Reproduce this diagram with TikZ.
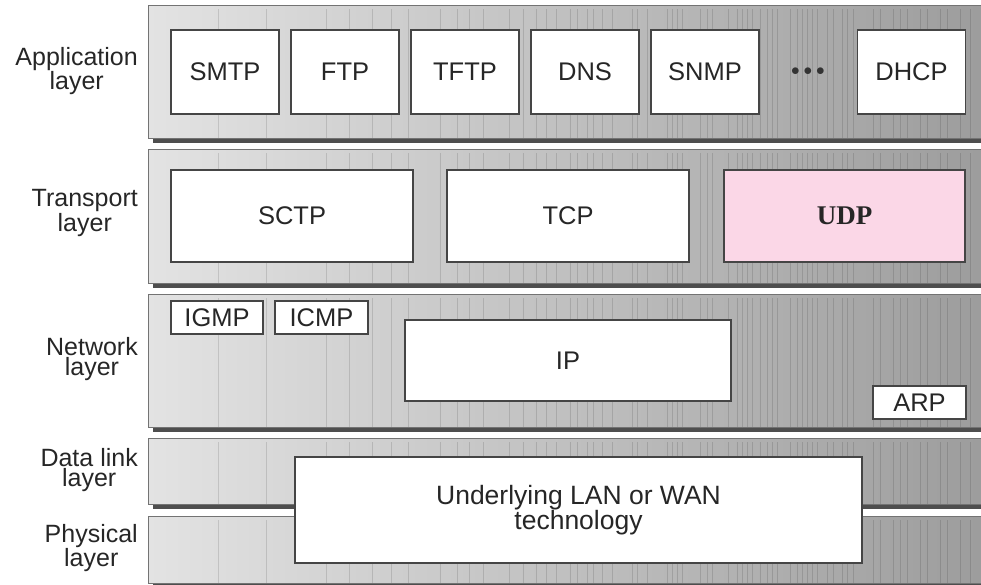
\documentclass[tikz,border=0pt]{standalone}
\usepackage{fontspec}
\setmainfont{Liberation Sans}
\newfontfamily\udpfont{Liberation Serif}
\definecolor{bandA}{HTML}{E3E3E3}
\definecolor{bandB}{HTML}{D5D5D5}
\definecolor{bandC}{HTML}{9C9C9C}
\definecolor{shadowgray}{HTML}{4E4E4E}
\definecolor{boxline}{HTML}{454545}
\definecolor{udppink}{HTML}{FBD7E7}
\tikzset{proto/.style = {shape=rectangle,draw=boxline,line width=1.3pt,fill=white,inner sep=1pt,text=black!85,font=\fontsize{25.5}{18}\selectfont}}
\tikzset{layername/.style = {anchor=east,align=center,inner sep=0pt,text=black!85,font=\fontsize{25}{20}\selectfont}}

\begin{document}
\begin{tikzpicture}[x=1pt,y=-1pt]
        \useasboundingbox (0,0) rectangle (981,584);

        % layer bands (top/bottom)
        \foreach \t/\b in {5/138,149/283,294/427,438/504,516/583} {
          \fill[shadowgray] (153,\t+5) rectangle (995,\b+5);
          \shade[left color=bandA,middle color=bandB,right color=bandC] (148,\t) rectangle (990,\b);
          \foreach \s in {218,266,326,349,372,391,408,440,457,469,483,509,523,536,546,556,570,577,587,593,602,612,632,637,647,667,672,677,682,700,707,712,728,737,742,747,752,760,767,772,777,790,797,802,807,812,817,827,833,842,847,853,873,880,893,900,907,920,927,940,947,960,970}
            \draw[black,opacity=.12,line width=.8pt] (\s,\t+4) -- (\s,\b);
          \draw[black!55,line width=.8pt] (148,\t) rectangle (990,\b);
        }

        % layer names
        \node[layername] (app) at (138,71) {Application\\layer};
        \node[layername] (trans) at (138,213) {Transport\\layer};
        \node[layername] (net) at (138,359) {Network\\layer};
        \node[layername] (dlink) at (138,470) {Data link\\layer};
        \node[layername] (phys) at (138,548) {Physical\\layer};

        % application layer
        \node[proto,minimum width=108pt,minimum height=84pt] (smtp) at (225,72) {SMTP};
        \node[proto,minimum width=108pt,minimum height=84pt] (ftp) at (345,72) {FTP};
        \node[proto,minimum width=108pt,minimum height=84pt] (tftp) at (465,72) {TFTP};
        \node[proto,minimum width=108pt,minimum height=84pt] (dns) at (585,72) {DNS};
        \node[proto,minimum width=108pt,minimum height=84pt] (snmp) at (705,72) {SNMP};
        \node[text=black!80,inner sep=0pt] (dots) at (808,72) {\fontsize{19}{19}\selectfont$\bullet\bullet\bullet$};
        \node[proto,minimum width=108pt,minimum height=84pt] (dhcp) at (911.5,72) {DHCP};

        % transport layer
        \node[proto,minimum width=242pt,minimum height=92pt] (sctp) at (292,216) {SCTP};
        \node[proto,minimum width=242pt,minimum height=92pt] (tcp) at (568,216) {TCP};
        \node[proto,fill=udppink,minimum width=241pt,minimum height=92pt,font=\fontsize{27}{27}\udpfont\bfseries] (udp) at (844.5,216) {UDP};

        % network layer
        \node[proto,minimum width=92pt,minimum height=33pt] (igmp) at (217,317.5) {IGMP};
        \node[proto,minimum width=93pt,minimum height=33pt] (icmp) at (321.5,317.5) {ICMP};
        \node[proto,minimum width=326pt,minimum height=81pt] (ip) at (568,360.5) {IP};
        \node[proto,minimum width=93pt,minimum height=33pt] (arp) at (919.5,402.5) {ARP};

        % data link and physical
        \node[proto,align=center,minimum width=567pt,minimum height=106pt,font=\fontsize{26.5}{16}\selectfont] (lan) at (578.5,510) {Underlying LAN or WAN\\technology};
      \end{tikzpicture}
\end{document}
